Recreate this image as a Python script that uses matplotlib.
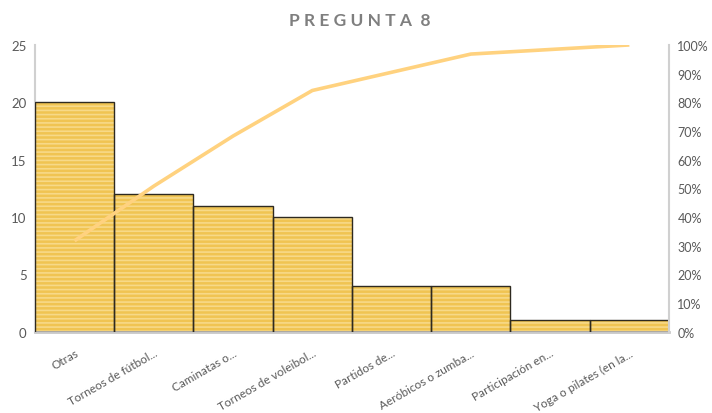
import matplotlib
matplotlib.use("Agg")
import matplotlib.pyplot as plt
from matplotlib.ticker import PercentFormatter, MultipleLocator

plt.rcParams['font.family'] = ['Lato', 'DejaVu Sans']
plt.rcParams['hatch.linewidth'] = 1.2

categories = ["Otras", "Torneos de fútbol...", "Caminatas o...", "Torneos de voleibol...",
              "Partidos de...", "Aeróbicos o zumba...", "Participación en...",
              "Yoga o pilates (en la..."]
counts = [20, 12, 11, 10, 4, 4, 1, 1]

total = sum(counts)
cumulative = []
running = 0
for c in counts:
    running += c
    cumulative.append(running / total)

fig = plt.figure(figsize=(7.12, 4.14), dpi=100)
ax = fig.add_axes([0.049, 0.196, 0.8906, 0.693])
x = list(range(len(categories)))

# striped yellow fill, then outlined on top
ax.bar(x, counts, width=1.0, color='#F0C452', edgecolor='#F7D988', linewidth=0,
       hatch='----', zorder=2)
ax.bar(x, counts, width=1.0, color='none', edgecolor='#2E2A20', linewidth=1.0, zorder=3)

ax.set_xlim(-0.5, len(categories) - 0.5)
ax.set_ylim(0, 25)
ax.yaxis.set_major_locator(MultipleLocator(5))
ax.set_xticks(x)
ax.set_xticklabels(categories, rotation=30, ha='right', va='top',
                   rotation_mode='anchor', fontsize=8.5, color='#595959')
ax.tick_params(axis='x', length=0, pad=11)
ax.tick_params(axis='y', length=0, labelsize=9.5, colors='#595959', pad=6)

for s in ['top', 'right']:
    ax.spines[s].set_visible(False)
ax.spines['left'].set_color('#D0D0D0')
ax.spines['left'].set_linewidth(1.5)
ax.spines['bottom'].set_color('#C8C8C8')
ax.spines['bottom'].set_linewidth(2)

ax2 = ax.twinx()
ax2.plot(x, cumulative, color='#FFD27F', linewidth=2.6, solid_capstyle='butt', zorder=4)
ax2.set_ylim(0, 1)
ax2.yaxis.set_major_locator(MultipleLocator(0.1))
ax2.yaxis.set_major_formatter(PercentFormatter(1.0, decimals=0))
ax2.tick_params(axis='y', length=0, labelsize=9, colors='#595959', pad=6)
for s in ['top', 'left', 'bottom']:
    ax2.spines[s].set_visible(False)
ax2.spines['right'].set_color('#D0D0D0')
ax2.spines['right'].set_linewidth(1.5)

fig.text(0.505, 0.95, "P R E G U N T A  8", ha='center', va='center',
         fontsize=12.5, fontweight='bold', color='#7F7F7F')

fig.savefig("out.png", dpi=100, facecolor='white')
